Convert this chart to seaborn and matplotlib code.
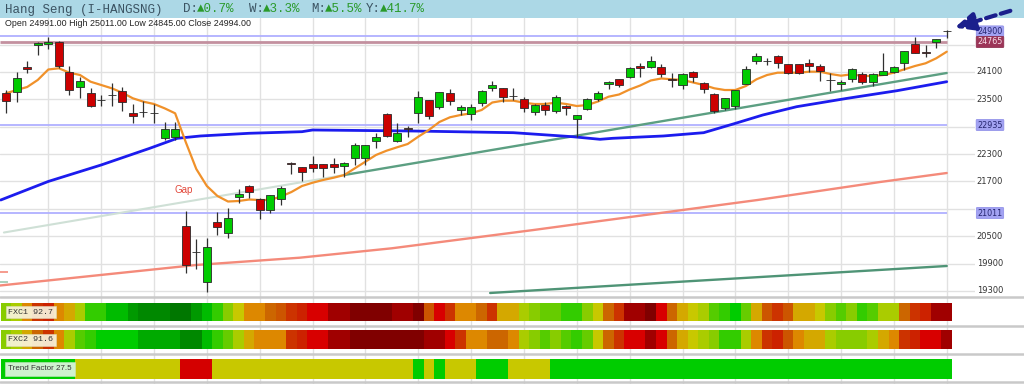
import numpy as np
import matplotlib
matplotlib.use("Agg")
import matplotlib.pyplot as plt
import matplotlib.transforms as mtransforms
from matplotlib.colors import ListedColormap
from matplotlib.patches import Rectangle, FancyArrowPatch
from matplotlib.lines import Line2D
import seaborn as sns

# ---------------- data ----------------
opens = [23640, 23661, 24210, 24692, 24714, 24765, 24107, 23765, 23646, 23486,
         23596, 23683, 23194, 23229, 23201, 22659, 22665, 20723, 20159, 19501,
         20811, 20569, 21365, 21600, 21315, 21074, 21315, 22098, 22023, 22082,
         22082, 22082, 22045, 22214, 22214, 22593, 23172, 22593, 22865, 23207,
         23486, 23326, 23646, 23267, 23179, 23414, 23743, 23743, 23580, 23501,
         23230, 23376, 23251, 23354, 23063, 23282, 23501, 23837, 23940, 23997,
         24232, 24216, 24203, 23940, 23815, 24093, 23852, 23618, 23304, 23354,
         23837, 24348, 24348, 24451, 24276, 24276, 24291, 24232, 23925, 23837,
         23940, 24056, 23887, 24034, 24107, 24291, 24714, 24545, 24765, 24991]
highs = [23705, 24100, 24341, 24758, 24874, 24780, 24232, 23997, 23749, 23596,
         23865, 23777, 23398, 23471, 23398, 23010, 23010, 21052, 20438, 20460,
         21036, 21118, 21534, 21620, 21337, 21403, 21600, 22133, 22023, 22258,
         22082, 22214, 22126, 22543, 22499, 22769, 23207, 22975, 22916, 23683,
         23486, 23655, 23721, 23376, 23398, 23705, 23909, 23743, 23743, 23558,
         23398, 23449, 23596, 23376, 23157, 23530, 23690, 23909, 23940, 24203,
         24291, 24451, 24276, 24085, 24072, 24129, 23887, 23646, 23523, 23705,
         24232, 24510, 24400, 24473, 24276, 24276, 24378, 24269, 24072, 23925,
         24181, 24107, 24085, 24510, 24232, 24567, 24874, 24692, 24817, 25011]
lows = [23201, 23442, 24078, 24473, 24604, 24188, 23596, 23530, 23332, 23354,
        23354, 23245, 22988, 23120, 22982, 22609, 22609, 19699, 19780, 19282,
        20526, 20460, 21227, 21337, 20876, 21015, 21183, 21863, 21716, 21914,
        21804, 21885, 21804, 22060, 22060, 22427, 22681, 22571, 22681, 22975,
        23063, 23282, 23376, 23157, 23047, 23361, 23690, 23449, 23486, 23230,
        23157, 23157, 23207, 23157, 22668, 23256, 23471, 23721, 23765, 23962,
        23984, 24181, 23997, 23765, 23721, 23887, 23633, 23207, 23267, 23282,
        23837, 24276, 24254, 24181, 24056, 24056, 24107, 23909, 23690, 23705,
        23887, 23837, 23793, 24034, 24072, 24144, 24523, 24436, 24620, 24845]
closes = [23464, 23968, 24166, 24743, 24765, 24232, 23705, 23903, 23354, 23475,
          23585, 23449, 23135, 23223, 23190, 22850, 22855, 19868, 20153, 20262,
          20701, 20898, 21418, 21475, 21074, 21403, 21556, 22091, 21914, 22001,
          22001, 22023, 22098, 22499, 22499, 22675, 22703, 22756, 22859, 23545,
          23135, 23655, 23471, 23339, 23326, 23683, 23815, 23558, 23574, 23304,
          23376, 23267, 23558, 23317, 23157, 23501, 23646, 23887, 23815, 24181,
          24181, 24348, 24056, 23933, 24050, 23997, 23727, 23251, 23523, 23705,
          24166, 24458, 24341, 24304, 24085, 24085, 24238, 24122, 23918, 23887,
          24159, 23887, 24056, 24129, 24203, 24567, 24523, 24510, 24817, 24994]

# short moving average (orange), one value per session
ma_short = [23633, 23705, 23771, 23925, 24155, 24181, 24085, 24034, 23887, 23815,
            23743, 23646, 23523, 23449, 23398, 23304, 23194, 22565, 21973, 21600,
            21381, 21260, 21271, 21304, 21293, 21293, 21370, 21468, 21600, 21672,
            21732, 21782, 21841, 21988, 22133, 22280, 22374, 22449, 22521, 22681,
            22828, 23004, 23107, 23157, 23194, 23267, 23431, 23471, 23471, 23427,
            23398, 23398, 23427, 23398, 23354, 23376, 23453, 23558, 23607, 23716,
            23804, 23914, 23958, 23940, 23925, 23870, 23815, 23743, 23705, 23705,
            23793, 23940, 24034, 24085, 24085, 24085, 24107, 24107, 24056, 24019,
            24050, 24012, 24012, 24034, 24085, 24159, 24232, 24291, 24400, 24545]

# mid-term moving average (blue), sampled
ma_mid_x = [-0.5, 4, 9, 13.6, 16.2, 18.4, 23, 28, 29, 38.5, 48, 53.6, 56.2, 57.4,
            62.2, 66, 68.8, 71.6, 74.8, 79.6, 84.3, 89]
ma_mid_y = [21293, 21700, 22061, 22427, 22646, 22697, 22756, 22791, 22828, 22806,
            22769, 22681, 22624, 22646, 22697, 22769, 22960, 23157, 23339, 23523,
            23690, 23887]

# long moving average (salmon), sampled
ma_long_x = [-0.57, 18.0, 27.8, 36.5, 49.9, 56.2, 71.1, 82.7, 89]
ma_long_y = [19418, 19868, 20028, 20234, 20635, 20832, 21293, 21688, 21885]

# trend lines
trend_x = [32, 89]
trend_y = [21841, 24078]
trend_ext_x = [-0.2, 32]
trend_ext_y = [20580, 21841]
trend2_x = [45.8, 89]
trend2_y = [19254, 19846]

# horizontal levels
level_blue = [24900, 22935, 21011]
level_red = 24765

price_ticks = [19300, 19900, 20500, 21100, 21700, 22300, 22900, 23500, 24100, 24700]
hidden_ticks = [21100, 22900, 24700]   # covered by level boxes

# indicator strips (colour level per session)
fxc1 = [11, 10, 7, 4, 3, 7, 8, 10, 14, 14,
        16, 16, 18, 19, 19, 19, 20, 20, 18, 16,
        14, 11, 9, 7, 7, 6, 5, 4, 3, 2,
        2, 1, 1, 0, 0, 0, 0, 1, 1, 0,
        5, 2, 4, 7, 7, 6, 4, 8, 8, 10,
        11, 12, 12, 14, 14, 11, 9, 6, 4, 1,
        1, 0, 2, 6, 8, 9, 10, 13, 14, 15,
        12, 8, 5, 4, 5, 8, 8, 9, 11, 13,
        11, 14, 13, 10, 10, 6, 4, 3, 1, 1]
fxc2 = [11, 10, 8, 6, 4, 7, 10, 13, 14, 15,
        15, 15, 15, 17, 17, 17, 17, 19, 19, 16,
        14, 12, 10, 8, 7, 7, 7, 4, 3, 2,
        2, 1, 1, 0, 0, 0, 0, 0, 0, 0,
        1, 1, 2, 4, 7, 7, 6, 6, 7, 10,
        11, 13, 11, 13, 14, 12, 9, 6, 4, 2,
        2, 1, 2, 6, 8, 9, 10, 11, 14, 14,
        10, 7, 4, 3, 5, 7, 8, 8, 10, 11,
        11, 11, 10, 8, 7, 4, 3, 2, 2, 1]
trend_state = ([1] * 7 + [0] * 10 + [-1] * 3 + [0] * 19 + [1] + [0] + [1] +
               [0] * 3 + [1] * 3 + [0] * 4 + [1] * 38)

level_colors = ['#800000', '#a00000', '#d80000', '#cc2200', '#cc3300', '#cc5500',
                '#cc6600', '#dd8800', '#d4a800', '#c8c800', '#aacc00', '#88cc00',
                '#66cc00', '#55cc00', '#33cc00', '#00cc00', '#00bb00', '#00aa00',
                '#009900', '#008800', '#007700']
trend_colors = ['#d40000', '#c8c800', '#00cc00']

# ---------------- figure ----------------
sns.set_theme(style="white")
plt.rcParams['font.family'] = ['DejaVu Sans']

W, H = 1024, 384
fig = plt.figure(figsize=(W / 100, H / 100), dpi=100)
fig.patch.set_facecolor('white')


def fy(px):
    return 1 - px / H


N = len(opens)
xs = np.arange(N)
XL = (-0.57, -0.57 + 975 / 10.57)

# header band
fig.add_artist(Rectangle((0, fy(18)), 1, 18 / H, transform=fig.transFigure,
                         facecolor='#acd8e6', edgecolor='none', zorder=0))
mono = ['Liberation Mono', 'DejaVu Sans Mono']
hdr = [("Hang Seng (I-HANGSNG)", 5, '#3b5362'), ("D:", 183, '#3b5362'),
       ("\u25b20.7%", 197, '#2a9a2a'), ("W:", 249, '#3b5362'),
       ("\u25b23.3%", 263, '#2a9a2a'), ("M:", 311, '#3b5362'),
       ("\u25b25.5%", 325, '#2a9a2a'), ("Y:", 366, '#3b5362'),
       ("\u25b241.7%", 380, '#2a9a2a')]
for t, xp, c in hdr:
    fig.text(xp / W, fy(9.5), t, family=mono, fontsize=9, color=c,
             ha='left', va='center')

# ---------------- price panel ----------------
ax = fig.add_axes([0, (H - 297) / H, 975 / W, 279 / H])
ax.set_facecolor('white')
ax.set_xlim(*XL)
ax.set_ylim(19166, 25284)
ax.set_xticks(range(4, N, 5))
ax.set_yticks(price_ticks)
ax.grid(True, color='#e1e1e1', lw=1)
ax.tick_params(length=0, labelbottom=False, labelleft=False)
for s in ax.spines.values():
    s.set_visible(False)

# horizontal levels
for lv in level_blue:
    ax.hlines(lv, XL[0], N - 1, colors='#b0b0ff', lw=1.3, zorder=1.5)
ax.hlines(level_red, XL[0], N - 1, colors='#c3909f', lw=2.0, zorder=1.5)

# lines
sns.lineplot(x=ma_long_x, y=ma_long_y, ax=ax, color='#f48a7a', lw=1.7, zorder=2)
sns.lineplot(x=trend_ext_x, y=trend_ext_y, ax=ax, color='#cfe0d6', lw=1.5, zorder=2)
sns.lineplot(x=trend_x, y=trend_y, ax=ax, color='#5c9f82', lw=1.7, zorder=2)
sns.lineplot(x=trend2_x, y=trend2_y, ax=ax, color='#4f9476', lw=1.7, zorder=2)
sns.lineplot(x=ma_mid_x, y=ma_mid_y, ax=ax, color='#1c1cee', lw=2.0, zorder=2)
sns.lineplot(x=list(xs), y=ma_short, ax=ax, color='#f0912a', lw=1.6, zorder=2.2)
ax.hlines([19714], XL[0], 0.15, colors='#f48a7a', lw=1.2)
ax.hlines([19502], XL[0], 0.15, colors='#9cc8b0', lw=1.2)

# candles
o = np.array(opens); c = np.array(closes)
hi = np.array(highs); lo = np.array(lows)
up = c >= o
ax.vlines(xs, lo, hi, colors='#303030', lw=0.9, zorder=3)
body_h = np.maximum(np.abs(c - o), 6)
ax.bar(xs, body_h, bottom=np.minimum(o, c), width=0.76,
       color=np.where(up, '#00cc00', '#cc0000'), edgecolor='#2a2a2a',
       linewidth=0.6, zorder=4)

ax.text(16.8, 21512, "Gap", color='#e2473a', fontsize=7,
        family=['Liberation Sans', 'DejaVu Sans'], ha='center', va='center')

ax.text(5 / 975 * (XL[1] - XL[0]) + XL[0], 25679 - 21.93 * 24,
        "Open 24991.00 High 25011.00 Low 24845.00 Close 24994.00",
        fontsize=6.4, color='#222222', family=['Liberation Sans', 'DejaVu Sans'],
        ha='left', va='center')

# right-hand price labels
blend = mtransforms.blended_transform_factory(fig.transFigure, ax.transData)
for t in price_ticks:
    if t in hidden_ticks:
        continue
    ax.text(990 / W, t, f"{t}", transform=blend, ha='center', va='center',
            fontsize=6, color='#333333', clip_on=False)
ypx = mtransforms.blended_transform_factory(fig.transFigure, fig.transFigure)
label_pos = {24900: 31.5, 22935: 125, 21011: 213}
for lv in level_blue:
    fig.text(990 / W, fy(label_pos[lv]), f"{lv}", ha='center', va='center',
             fontsize=5.8, color='#262670', zorder=6,
             bbox=dict(boxstyle='round,pad=0.14', fc='#9d9df2', ec='#8a8ae6',
                       lw=0.5, alpha=0.95))
fig.text(990 / W, fy(42), f"{level_red}", ha='center', va='center',
         fontsize=5.8, color='#f8e0ea', zorder=7,
         bbox=dict(boxstyle='round,pad=0.14', fc='#9c3558', ec='#8a2a4a', lw=0.5))

# arrow pointing at the last candle
fig.add_artist(FancyArrowPatch(posA=(1013 / W, fy(10)), posB=(952 / W, fy(28.5)),
                               transform=fig.transFigure,
                               arrowstyle='-|>,head_length=0.75,head_width=0.34',
                               mutation_scale=16, lw=3, linestyle=(0, (2.4, 1.3)),
                               color='#1b1f8c', zorder=10))

# ---------------- indicator area ----------------
axb = fig.add_axes([0, 0, 975 / W, 87 / H], zorder=0)
axb.set_xlim(*XL)
axb.set_ylim(0, 1)
axb.set_xticks(range(4, N, 5))
axb.set_yticks([])
axb.grid(True, axis='x', color='#e1e1e1', lw=1)
axb.tick_params(length=0, labelbottom=False)
for s in axb.spines.values():
    s.set_visible(False)

cmap_lv = ListedColormap(level_colors)
cmap_tr = ListedColormap(trend_colors)
strips = [(fxc1, cmap_lv, -0.5, len(level_colors) - 0.5, 303, 321),
          (fxc2, cmap_lv, -0.5, len(level_colors) - 0.5, 330, 349),
          (trend_state, cmap_tr, -1.5, 1.5, 359, 379)]
for vals, cm, vmin, vmax, ytop, ybot in strips:
    axs = fig.add_axes([0.7 / W, (H - ybot) / H, N * 10.57 / W, (ybot - ytop) / H],
                       zorder=1)
    sns.heatmap(np.array([vals]), ax=axs, cmap=cm, vmin=vmin, vmax=vmax,
                cbar=False, xticklabels=False, yticklabels=False)
    axs.set_axis_off()

lab_box = dict(boxstyle='square,pad=0.3', fc='#f8f4de', ec='#e0dcc0', lw=0.4, alpha=0.92)
fig.text(8 / W, fy(312), "FXC1 92.7", family=mono, fontsize=6, color='#333333',
         ha='left', va='center', bbox=lab_box, zorder=5)
fig.text(8 / W, fy(339.5), "FXC2 91.6", family=mono, fontsize=6, color='#333333',
         ha='left', va='center', bbox=lab_box, zorder=5)
fig.text(8 / W, fy(369), "Trend Factor 27.5", family=['Liberation Sans', 'DejaVu Sans'],
         fontsize=5.8, color='#333333', ha='left', va='center', zorder=5,
         bbox=dict(boxstyle='square,pad=0.4', fc='#e2f6e2', ec='#c8e8c8', lw=0.4,
                   alpha=0.92))

# panel separators
for yp in [297, 325.5, 354, 381.5]:
    fig.add_artist(Line2D([0, 1], [fy(yp), fy(yp)], transform=fig.transFigure,
                          color='#c9c9c9', lw=1.8, zorder=2))

fig.savefig("out.png", dpi=100)
